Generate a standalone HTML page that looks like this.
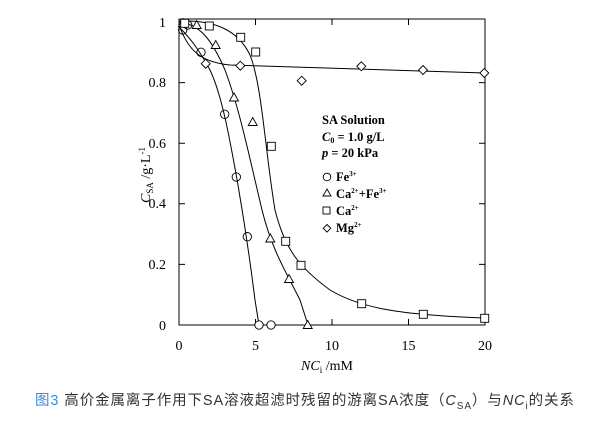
<!DOCTYPE html>
<html><head><meta charset="utf-8"><style>
body{margin:0;background:#fff;width:605px;height:423px;overflow:hidden}
svg text{font-family:"Liberation Serif",serif;fill:#000}
.cap{position:absolute;left:35px;top:389px;font:14.5px "Liberation Sans","Noto Sans CJK SC",sans-serif;letter-spacing:0.9px;color:#333;white-space:nowrap}
</style></head><body>
<svg width="605" height="423" style="position:absolute;left:0;top:0">
<g fill="none" stroke="#000" stroke-width="1">
<rect x="179" y="19" width="306" height="306"/>
<path d="M179 264.4h6M179 203.8h6M179 143.2h6M179 82.6h6M485 264.4h-6M485 203.8h-6M485 143.2h-6M485 82.6h-6M255.5 325v-6M332 325v-6M408.5 325v-6M255.5 19v6M332 19v6M408.5 19v6"/>
<path d="M179 27 C190 38,198 48,210 70 C222 95,230 140,238 185 C244 220,250 260,255 300 L259 325"/>
<path d="M179 22 C200 24,212 40,225 70 C240 110,250 160,262 210 C272 250,285 270,300 300 L308 325"/>
<path d="M179 21 C215 20,238 30,250 55 C262 85,265 150,275 210 C285 250,300 268,330 290 C360 308,400 315,485 318"/>
<path d="M179 25 C188 50,200 62,230 65 C300 68,400 70,485 73"/>
<g stroke-width="0.9">
<circle cx="182.7" cy="30" r="4.2"/><circle cx="187.7" cy="25" r="4.2"/><circle cx="201" cy="52.3" r="4.2"/><circle cx="224.7" cy="114.3" r="4.2"/><circle cx="236.3" cy="177" r="4.2"/><circle cx="247.3" cy="236.7" r="4.2"/><circle cx="259" cy="325" r="4.2" fill="#fff"/><circle cx="271" cy="325" r="4.2" fill="#fff"/>
<g fill="#fff">
<path d="M183 18.5l4.5 8h-9z"/><path d="M196.7 20.5l4.5 8h-9z"/><path d="M215.7 40.5l4.5 8h-9z"/><path d="M234 93l4.5 8h-9z"/><path d="M252.7 117.5l4.5 8h-9z"/><path d="M270.3 234l4.5 8h-9z"/><path d="M289 274.5l4.5 8h-9z"/><path d="M307.7 320.5l4.5 8h-9z"/>
<rect x="180.7" y="19.3" width="8" height="8"/><rect x="205.3" y="22" width="8" height="8"/><rect x="236.7" y="33.3" width="8" height="8"/><rect x="251.7" y="48" width="8" height="8"/><rect x="267.3" y="142.3" width="8" height="8"/><rect x="281.7" y="237.3" width="8" height="8"/><rect x="297" y="261.3" width="8" height="8"/><rect x="357.7" y="299.7" width="8" height="8"/><rect x="419.3" y="310.3" width="8" height="8"/><rect x="480.7" y="314.3" width="8" height="8"/>
<path d="M205.7 59.2l4.5 4.5-4.5 4.5-4.5-4.5z"/><path d="M240.3 61.2l4.5 4.5-4.5 4.5-4.5-4.5z"/><path d="M301.7 76.2l4.5 4.5-4.5 4.5-4.5-4.5z"/><path d="M361.3 61.8l4.5 4.5-4.5 4.5-4.5-4.5z"/><path d="M423 65.5l4.5 4.5-4.5 4.5-4.5-4.5z"/><path d="M484.3 68.5l4.5 4.5-4.5 4.5-4.5-4.5z"/>
</g>
<circle cx="327" cy="177" r="3.8"/><path d="M327 189l4 7h-8z"/><rect x="323" y="207" width="7" height="7"/><path d="M327 224.5l3.8 3.8-3.8 3.8-3.8-3.8z"/>
</g>
</g>
<g font-size="14" text-anchor="end">
<text x="166" y="27">1</text><text x="166" y="87">0.8</text><text x="166" y="148">0.6</text><text x="166" y="208">0.4</text><text x="166" y="269">0.2</text><text x="166" y="330">0</text>
</g>
<g font-size="14" text-anchor="middle">
<text x="179" y="350">0</text><text x="255.5" y="350">5</text><text x="332" y="350">10</text><text x="408.5" y="350">15</text><text x="485" y="350">20</text>
</g>
<text x="327" y="370" font-size="14" text-anchor="middle"><tspan font-style="italic">NC</tspan><tspan font-size="9" dy="3">i</tspan><tspan dy="-3"> /mM</tspan></text>
<text transform="translate(150,175) rotate(-90)" font-size="14" text-anchor="middle"><tspan font-style="italic">C</tspan><tspan font-size="9" dy="3">SA</tspan><tspan dy="-3"> /g·L</tspan><tspan font-size="9" dy="-5">-1</tspan></text>
<g font-size="12.5" font-weight="bold">
<text x="322" y="124">SA Solution</text>
<text x="322" y="141"><tspan font-style="italic">C</tspan><tspan font-size="8" dy="2">0</tspan><tspan dy="-2"> = 1.0 g/L</tspan></text>
<text x="322" y="157"><tspan font-style="italic">p</tspan> = 20 kPa</text>
<text x="336" y="181">Fe<tspan font-size="7" dy="-5">3+</tspan></text>
<text x="336" y="198">Ca<tspan font-size="7" dy="-5">2+</tspan><tspan dy="5">+Fe</tspan><tspan font-size="7" dy="-5">3+</tspan></text>
<text x="336" y="215">Ca<tspan font-size="7" dy="-5">2+</tspan></text>
<text x="336" y="232">Mg<tspan font-size="7" dy="-5">2+</tspan></text>
</g>
</svg>
<div class="cap"><span style="color:#3a8ee0">图3</span> 高价金属离子作用下SA溶液超滤时残留的游离SA浓度（<i>C</i><sub style="font-size:10px">SA</sub>）与<i>NC</i><sub style="font-size:10px">i</sub>的关系</div>
</body></html>
